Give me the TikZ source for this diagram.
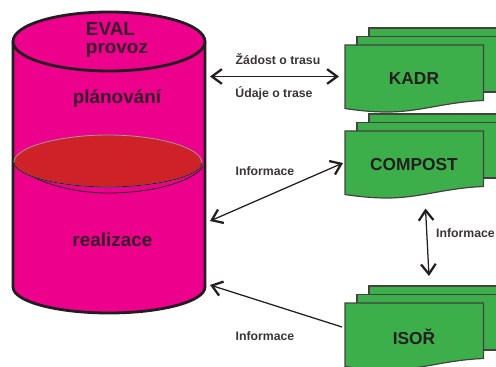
\documentclass[tikz,border=0pt]{standalone}
\usepackage{fontspec}
\setmainfont{Liberation Sans}
\usetikzlibrary{arrows.meta}
\definecolor{ink}{HTML}{231F20}
\definecolor{magen}{HTML}{EC008C}
\definecolor{redd}{HTML}{CE2228}
\definecolor{gren}{HTML}{3CAF4A}
\tikzset{
  cyl/.style={draw=ink,line width=2.1pt,fill=magen},
  sheet/.style={draw=ink!85,line width=0.9pt,fill=gren,line join=miter},
  lbl/.style={font=\bfseries\fontsize{9.2}{10}\selectfont,text=ink!90,inner sep=0pt},
  cyltxt/.style={font=\bfseries\fontsize{14.2}{16}\selectfont,text=ink!90!magen,inner sep=0pt},
  doctxt/.style={font=\bfseries\fontsize{13}{15}\selectfont,text=ink,inner sep=0pt},
  link/.style={draw=ink,line width=0.95pt,arrows={-}},
  tip/.tip={Straight Barb[length=7.5pt,width=11pt,line width=1.7pt]}
}
\newcommand{\docstack}[2]{%
  % #1 = x of front sheet, #2 = y of top of front sheet
  \begin{scope}[shift={(#1,#2)}]
    \path[sheet] (24,-17) -- (160,-17) -- (160,38) -- (24,38) -- cycle;
    \path[sheet] (12,-8.5) -- (152,-8.5) -- (152,47) -- (12,47) -- cycle;
    \path[sheet] (0,0) -- (138.5,0) -- (138.5,55.5)
      .. controls (100,57) and (75,67) .. (42,67)
      .. controls (25,67) and (10,65) .. (0,63.5) -- cycle;
  \end{scope}}
\begin{document}
\begin{tikzpicture}[x=0.75pt,y=-0.75pt]
\useasboundingbox (0,0) rectangle (496,367);
\clip (0,0) rectangle (496,367);
% cylinder
\path[cyl] (13,43) arc[start angle=180,end angle=360,x radius=96,y radius=28]
  -- (205,287) arc[start angle=0,end angle=180,x radius=96,y radius=26] -- cycle;
\path[cyl] (109,41.5) ellipse[x radius=96,y radius=29.5];
\draw[ink,line width=0.6pt] (14,163) .. controls (30,181) and (70,193) .. (108,193)
  .. controls (150,193) and (190,183) .. (203,167);
\path[fill=redd,draw=ink!45,line width=0.6pt] (14,162) .. controls (14,147) and (60,135) .. (108,135)
  .. controls (156,135) and (202,147) .. (202,163)
  .. controls (202,176) and (156,187) .. (108,187)
  .. controls (60,187) and (14,176) .. (14,162) -- cycle;
\draw[ink,line width=0.6pt] (202,163) .. controls (202,176) and (156,187) .. (108,187)
  .. controls (60,187) and (14,176) .. (14,162);
\node[cyltxt] (eval) at (110.5,29) {EVAL};
\node[cyltxt] (provoz) at (117,50) {provoz};
\node[cyltxt] (plan) at (117,99) {plánování};
\node[cyltxt] (real) at (112.5,240) {realizace};
% document stacks
\docstack{345}{45}
\docstack{345}{131}
\docstack{345}{303}
\node[doctxt] (kadr) at (414,79) {KADR};
\node[doctxt] (compost) at (414,165) {COMPOST};
\node[doctxt] (isor) at (414,337) {ISOŘ};
% connector ends
\coordinate (cylA) at (210,76.5);
\coordinate (kadrL) at (339,76.5);
\coordinate (cylB) at (210,221);
\coordinate (compL) at (343,163);
\coordinate (compB) at (425.5,208.5);
\coordinate (isorT) at (429,276);
\coordinate (cylC) at (210,285);
\coordinate (isorL) at (342,327);
\draw[link,tip-tip] (cylA) -- (kadrL);
\draw[link,tip-tip] (cylB) -- (compL);
\draw[link,tip-tip] (compB) -- (isorT);
\draw[link,-tip] (isorL) -- (cylC);
% labels
\node[lbl] (l1) at (278,59) {Žádost o trasu};
\node[lbl] (l2) at (274,93) {Údaje o trase};
\node[lbl] (l3) at (265,171.5) {Informace};
\node[lbl] (l4) at (465.5,233.5) {Informace};
\node[lbl] (l5) at (265,336) {Informace};
\end{tikzpicture}
\end{document}
